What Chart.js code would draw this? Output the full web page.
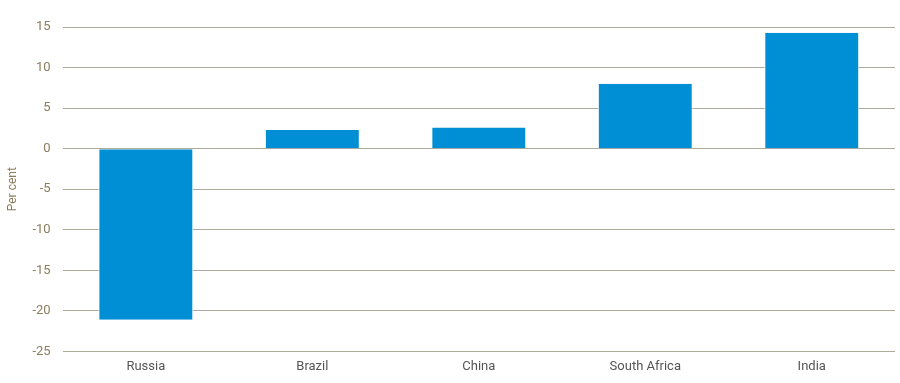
<!DOCTYPE html>
<html>
<head>
<meta charset="utf-8">
<script src="https://cdn.jsdelivr.net/npm/chart.js@4"></script>
<style>
  html, body { margin: 0; padding: 0; background: #fff; }
  #wrap { width: 900px; height: 383px; position: relative; }
</style>
</head>
<body>
<div id="wrap"><canvas id="myChart"></canvas></div>
<script>
// data
const countries = ['Russia', 'Brazil', 'China', 'South Africa', 'India'];
const changes = [-21.1, 2.3, 2.6, 8.0, 14.3];
const yTicks = [15, 10, 5, 0, -5, -10, -15, -20, -25];

const fontFamily = "'Roboto', sans-serif";

new Chart(document.getElementById('myChart'), {
    type: 'bar',
    data: {
        labels: countries,
        datasets: [{
            label: 'Per cent',
            data: changes,
            backgroundColor: '#008fd5',
            borderColor: '#ffffff',
            borderWidth: { left: 1, right: 1, top: 0, bottom: 0 },
            borderSkipped: false,
            barPercentage: 0.57,
            categoryPercentage: 1
        }]
    },
    options: {
        responsive: true,
        maintainAspectRatio: false,
        animation: false,
        layout: { padding: { top: 27, right: 5, left: 6, bottom: 0 } },
        plugins: {
            legend: { display: false },
            tooltip: { enabled: false }
        },
        scales: {
            x: {
                grid: { display: false, drawTicks: false },
                border: { display: false },
                ticks: { color: '#555555', font: { family: fontFamily, size: 13 }, padding: 8 }
            },
            y: {
                min: -25,
                max: 15,
                afterBuildTicks: axis => { axis.ticks = yTicks.map(v => ({ value: v })); },
                grid: { color: '#aeab9c', lineWidth: 1, drawTicks: false },
                border: { display: false },
                ticks: { color: '#8c7c5e', font: { family: fontFamily, size: 13 }, padding: 12 },
                title: {
                    display: true,
                    text: 'Per cent',
                    color: '#8c7c5e',
                    font: { family: fontFamily, size: 12 },
                    padding: { top: 0, bottom: 0 }
                }
            }
        }
    }
});
</script>
</body>
</html>
